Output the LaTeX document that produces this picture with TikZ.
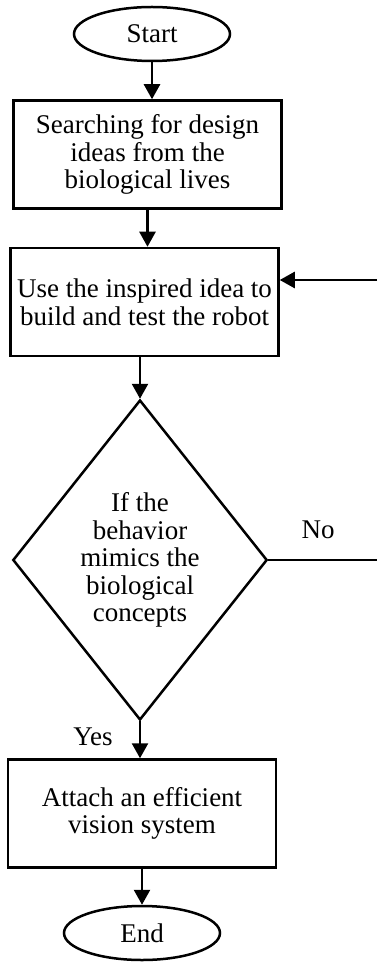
\documentclass[tikz,border=0pt]{standalone}
\usepackage{fontspec}
\setmainfont{Liberation Serif}
\usepackage{tikz}
\usetikzlibrary{arrows.meta,positioning,shapes.geometric,calc}

\begin{document}
\begin{tikzpicture}[x=0.5pt, y=-0.5pt, font=\rmfamily\fontsize{13.5}{13.8}\selectfont,
  term/.style={draw, ellipse, line width=1.25pt, inner sep=0pt, minimum width=78pt, minimum height=27pt},
  proc/.style={draw, rectangle, line width=1.25pt, align=center, inner sep=2pt, minimum width=134pt, minimum height=54pt},
  decide/.style={draw, diamond, line width=1.25pt, align=center, inner sep=0pt, minimum width=126.5pt, minimum height=160pt},
  flow/.style={-{Triangle[length=7.5pt, width=8pt]}, line width=1.25pt},
  lbl/.style={inner sep=0pt}]
\useasboundingbox (0,0) rectangle (377,962);
\node[term]   (start)  at (152,34)    {Start};
\node[proc]   (search) at (147.5,154.5) {Searching for design\\ideas from the\\biological lives};
\node[proc]   (build)  at (144.5,302) {Use the inspired idea to\\build and test the robot};
\node[decide] (check)  at (140,560)   {If the\\behavior\\mimics the\\biological\\concepts};
\node[proc]   (attach) at (142,813.5) {Attach an efficient\\vision system};
\node[term]   (end)    at (142,933)   {End};
\node[lbl]    (no)     at (318,530)   {No};
\node[lbl]    (yes)    at (93,737)    {Yes};
\coordinate (noend)  at (377,560);
\coordinate (loopin) at (377,280);
% main flow
\draw[flow] (start.south) -- (start.south |- search.north);
\draw[flow] (search.south) -- (search.south |- build.north);
\draw[flow] (check.north |- build.south) -- (check.north);
\draw[flow] (check.south) -- (check.south |- attach.north);
\draw[flow] (attach.south) -- (end.north);
% feedback
\draw[line width=1.25pt] (check.east) -- (noend);
\draw[flow] (loopin) -- (loopin -| build.east);
\end{tikzpicture}
\end{document}
